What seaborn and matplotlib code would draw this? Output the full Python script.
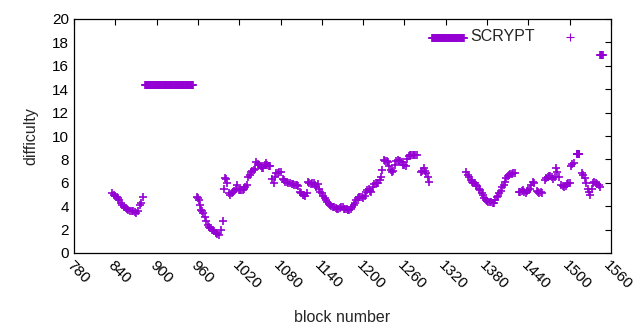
import matplotlib
matplotlib.use("Agg")
import matplotlib.pyplot as plt
import seaborn as sns
import pandas as pd

# block number / difficulty, one list pair per run of blocks
blocks_a = [835, 838, 840, 842, 844, 846, 848, 850, 853, 855, 857, 859, 861, 864, 866, 868, 870, 873, 876, 878, 880]
diff_a = [5.1, 5.0, 4.85, 4.8, 4.7, 4.5, 4.25, 4.1, 3.95, 3.85, 3.75, 3.7, 3.6, 3.55, 3.55, 3.5, 3.4, 3.6, 4.1, 4.3, 4.8]

# flat run at 14.4 (every block)
blocks_b = [883, 884, 885, 886, 887, 888, 889, 890, 891, 892, 893, 894, 895, 896, 897, 898, 899, 900,
            901, 902, 903, 904, 905, 906, 907, 908, 909, 910, 911, 912, 913, 914, 915, 916, 917, 918,
            919, 920, 921, 922, 923, 924, 925, 926, 927, 928, 929, 930, 931, 932, 933, 934, 935, 936,
            937, 938, 939, 940, 941, 942, 943, 944, 945, 946, 947, 948, 949, 950, 951, 952, 953]
diff_b = [14.4] * len(blocks_b)

blocks_c = [958, 960, 961, 963, 965, 966, 968, 970, 972, 974, 976, 978, 980, 982, 984, 986, 988, 990, 993, 997]
diff_c = [4.8, 4.7, 4.5, 4.1, 3.7, 3.55, 3.4, 3.1, 2.7, 2.4, 2.25, 2.1, 2.0, 1.95, 1.85, 1.7, 1.6, 1.5, 1.95, 2.75]

blocks_d = [998, 999, 1001, 1002, 1005, 1007, 1009, 1011, 1013, 1015, 1017, 1019, 1021, 1023, 1025, 1027,
            1029, 1031, 1033, 1035, 1037, 1039, 1041, 1043, 1045, 1047, 1049, 1051, 1053, 1055, 1057, 1059,
            1061, 1063, 1065, 1068, 1070, 1072, 1074, 1076, 1078, 1080, 1083, 1085, 1087, 1089, 1091, 1094,
            1096, 1098, 1100, 1102, 1104, 1106, 1108, 1110, 1112, 1114, 1116, 1118, 1120, 1122, 1124, 1126,
            1128, 1130, 1132, 1134, 1136, 1138, 1140, 1142, 1144, 1146, 1148, 1150, 1152, 1154, 1156, 1158,
            1160, 1162, 1164, 1166, 1168, 1170, 1172, 1174, 1176, 1178, 1180, 1182, 1184, 1186, 1188, 1190,
            1192, 1194, 1196, 1198, 1200, 1202, 1204, 1206, 1208, 1210, 1212, 1214, 1216, 1218, 1220, 1222,
            1224, 1226, 1228, 1230, 1232, 1234, 1236, 1238, 1240, 1242, 1244, 1246, 1248, 1250, 1252, 1254,
            1256, 1258, 1260, 1262, 1264, 1266, 1268, 1270, 1272, 1274, 1276, 1278, 1284, 1286, 1288, 1290,
            1292, 1294, 1296]
diff_d = [5.5, 6.4, 6.3, 5.95, 5.1, 4.95, 5.1, 5.2, 5.3, 5.5, 5.8, 5.4, 5.4, 5.35, 5.4, 5.5,
          5.6, 5.8, 6.5, 6.7, 6.9, 7.0, 7.1, 7.2, 7.8, 7.6, 7.5, 7.4, 7.3, 7.25, 7.5, 7.65,
          7.5, 7.45, 7.4, 6.3, 5.96, 6.5, 6.8, 6.85, 6.9, 6.9, 6.3, 6.2, 6.1, 6.05, 6.0, 5.95,
          5.9, 5.9, 5.8, 5.85, 5.8, 5.7, 5.2, 5.1, 5.0, 4.95, 4.9, 5.1, 6.1, 6.0, 5.9, 6.0,
          5.95, 5.8, 5.65, 5.9, 5.5, 5.2, 5.1, 4.9, 4.7, 4.5, 4.4, 4.2, 4.1, 4.0, 3.95, 3.9,
          3.85, 3.8, 3.8, 3.85, 3.95, 3.9, 3.8, 3.8, 3.75, 3.7, 3.65, 3.75, 3.9, 4.1, 4.25, 4.5,
          4.7, 4.8, 4.8, 4.75, 4.7, 4.9, 5.2, 5.4, 5.45, 5.3, 5.25, 5.6, 5.9, 6.0, 6.0, 5.95,
          6.2, 6.5, 7.1, 7.95, 7.9, 7.85, 7.8, 7.4, 7.1, 6.95, 7.0, 7.5, 7.9, 7.95, 7.9, 7.85,
          7.8, 7.5, 7.5, 7.4, 8.0, 8.3, 8.4, 8.4, 8.4, 8.4, 8.4, 8.4, 6.9, 7.0, 7.25, 7.0,
          6.8, 6.5, 6.1]

# flat run at 18.35 (every block)
blocks_e = [1300, 1301, 1302, 1303, 1304, 1305, 1306, 1307, 1308, 1309, 1310, 1311, 1312, 1313, 1314,
            1315, 1316, 1317, 1318, 1319, 1320, 1321, 1322, 1323, 1324, 1325, 1326, 1327, 1328, 1329,
            1330, 1331, 1332, 1333, 1334, 1335, 1336, 1337, 1338, 1339, 1340, 1341, 1342, 1343, 1344,
            1345, 1346]
diff_e = [18.35] * len(blocks_e)

blocks_f = [1350, 1352, 1354, 1356, 1358, 1360, 1362, 1364, 1366, 1368, 1370, 1372, 1374, 1376, 1378, 1380,
            1382, 1384, 1386, 1388, 1390, 1392, 1394, 1396, 1398, 1400, 1402, 1404, 1406, 1408, 1410, 1412,
            1414, 1416, 1418, 1420, 1426, 1428, 1430, 1432, 1434, 1436, 1438, 1440, 1442, 1444, 1446, 1448,
            1452, 1454, 1456, 1458, 1460, 1464, 1466, 1468, 1470, 1472, 1474, 1476, 1478, 1480, 1482, 1484,
            1488, 1490, 1492, 1494, 1496, 1498, 1500, 1502, 1504, 1506, 1510, 1511, 1512, 1513, 1514, 1518,
            1520, 1522, 1524, 1526, 1528, 1530, 1532, 1534, 1536, 1538, 1540, 1542, 1544]
diff_f = [6.95, 6.7, 6.5, 6.2, 6.1, 6.0, 5.95, 5.8, 5.7, 5.5, 5.4, 5.1, 4.95, 4.7, 4.5, 4.45,
          4.4, 4.4, 4.35, 4.25, 4.3, 4.5, 4.8, 4.9, 5.1, 5.3, 5.6, 5.8, 6.1, 6.4, 6.6, 6.7,
          6.75, 6.75, 6.8, 6.8, 5.2, 5.25, 5.3, 5.4, 5.2, 5.1, 5.3, 5.4, 5.5, 5.8, 6.1, 6.0,
          5.3, 5.25, 5.1, 5.2, 5.1, 6.2, 6.4, 6.5, 6.6, 6.6, 6.5, 6.3, 6.5, 7.25, 6.9, 6.5,
          5.8, 5.7, 5.6, 5.7, 5.9, 5.96, 6.0, 7.4, 7.6, 7.65, 8.5, 8.5, 8.5, 8.5, 8.5, 6.8,
          6.7, 6.4, 6.0, 5.5, 5.2, 5.0, 5.5, 6.0, 6.1, 6.0, 5.9, 5.8, 5.6]

blocks_g = [1544, 1545, 1546, 1547, 1548]
diff_g = [16.9, 16.9, 16.9, 16.9, 16.9]

df = pd.DataFrame({
    "block": blocks_a + blocks_b + blocks_c + blocks_d + blocks_e + blocks_f + blocks_g,
    "difficulty": diff_a + diff_b + diff_c + diff_d + diff_e + diff_f + diff_g,
})

sns.set_style("white")
plt.rcParams["font.family"] = ["Liberation Sans", "DejaVu Sans"]

fig = plt.figure(figsize=(6.4, 3.3), dpi=100)
ax = fig.add_axes([74 / 640, 1 - 253 / 330, (611 - 74) / 640, (253 - 19) / 330])

sns.scatterplot(data=df, x="block", y="difficulty", marker="+", s=30,
                color="#9400d3", linewidth=1.2, label="SCRYPT", ax=ax)

ax.set_xlim(780, 1560)
ax.set_ylim(0, 20)
ax.set_xticks(range(780, 1561, 60))
ax.set_yticks(range(0, 21, 2))
ax.tick_params(direction="in", length=4, width=0.8, top=True, right=True,
               labelsize=11, colors="black")
for lbl in ax.get_xticklabels():
    lbl.set_rotation(-45)
    lbl.set_ha("left")
    lbl.set_va("top")
    lbl.set_rotation_mode("anchor")
for sp in ax.spines.values():
    sp.set_color("black")
    sp.set_linewidth(0.9)

ax.set_xlabel("block number", fontsize=11.5, labelpad=13)
ax.set_ylabel("difficulty", fontsize=11.5, labelpad=10)

leg = ax.legend(loc="upper right", bbox_to_anchor=(0.965, 0.985), frameon=False, markerfirst=False,
                fontsize=11.5, handletextpad=1.2, borderaxespad=0, scatterpoints=1)
for h in leg.legend_handles:
    h.set_linewidth(0.8)

fig.savefig("out.png", dpi=100)
